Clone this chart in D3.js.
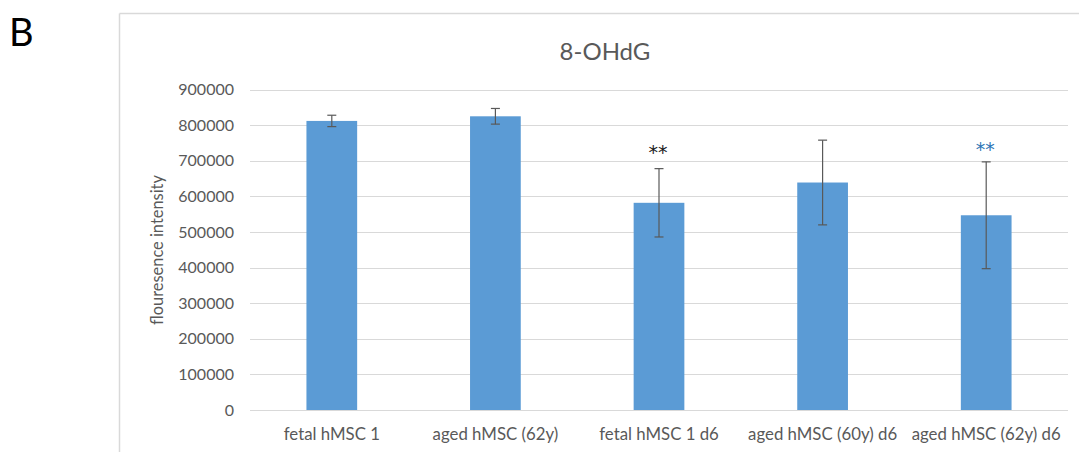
<!DOCTYPE html>
<html>
<head>
<meta charset="utf-8">
<script src="https://cdn.jsdelivr.net/npm/d3@7"></script>
<style>
  html, body { margin: 0; padding: 0; background: #fff; }
  svg { display: block; font-family: Lato, "Open Sans", sans-serif; }
</style>
</head>
<body>
<svg id="chart" width="1079" height="452"></svg>
<script>
const categories = ["fetal hMSC 1", "aged hMSC (62y)", "fetal hMSC 1 d6", "aged hMSC (60y) d6", "aged hMSC (62y) d6"];
const values = [812000, 825000, 582000, 639000, 547000];
const errors = [16000, 22000, 96000, 119000, 150000];
const significance = ["", "", "**", "", "**"];
const significanceColors = ["#000", "#000", "#1a1a1a", "#000", "#2E75B6"];
const yTicks = [0, 100000, 200000, 300000, 400000, 500000, 600000, 700000, 800000, 900000];

const svg = d3.select("#chart");
const W = 1079, H = 452;
const margin = { left: 250, right: 11, top: 89.6, bottom: 42 };

// panel label
svg.append("text").attr("x", 9).attr("y", 46)
  .attr("font-size", 38).attr("fill", "#000").text("B");

// chart frame (top and left edges visible)
svg.append("line").attr("x1", 119.5).attr("x2", W).attr("y1", 13.5).attr("y2", 13.5)
  .attr("stroke", "#d9d9d9").attr("stroke-width", 1.5);
svg.append("line").attr("x1", 119.5).attr("x2", 119.5).attr("y1", 13.5).attr("y2", H)
  .attr("stroke", "#d9d9d9").attr("stroke-width", 1.5);

const x = d3.scaleBand().domain(categories)
  .range([margin.left, W - margin.right])
  .paddingInner(0.69).paddingOuter(0.345);
const y = d3.scaleLinear().domain([0, 900000]).range([410, margin.top]);

// gridlines
svg.append("g").selectAll("line").data(yTicks).join("line")
  .attr("x1", margin.left).attr("x2", W - margin.right)
  .attr("y1", d => Math.round(y(d)) + 0.5).attr("y2", d => Math.round(y(d)) + 0.5)
  .attr("stroke", "#d9d9d9").attr("stroke-width", 1);

// y axis labels
const yAxis = d3.axisLeft(y).tickValues(yTicks).tickSize(0).tickPadding(16).tickFormat(d3.format("d"));
const gy = svg.append("g").attr("transform", `translate(${margin.left},0)`).call(yAxis);
gy.select(".domain").remove();
gy.selectAll("text").attr("font-size", 16).attr("fill", "#595959")
  .attr("font-family", "Lato, 'Open Sans', sans-serif");

// x axis labels
const xAxis = d3.axisBottom(x).tickSize(0).tickPadding(18);
const gx = svg.append("g").attr("transform", `translate(0,410)`).call(xAxis);
gx.select(".domain").remove();
gx.selectAll("text").attr("font-size", 16.8).attr("fill", "#595959")
  .attr("font-family", "Lato, 'Open Sans', sans-serif");

// bars
svg.append("g").selectAll("rect").data(categories).join("rect")
  .attr("x", d => x(d)).attr("width", x.bandwidth())
  .attr("y", (d, i) => y(values[i])).attr("height", (d, i) => y(0) - y(values[i]))
  .attr("fill", "#5B9BD5");

// error bars
const eb = svg.append("g").attr("stroke", "#595959").attr("stroke-width", 1.2);
categories.forEach((c, i) => {
  const cx = x(c) + x.bandwidth() / 2;
  const yt = y(values[i] + errors[i]), yb = y(values[i] - errors[i]);
  eb.append("line").attr("x1", cx).attr("x2", cx).attr("y1", yt).attr("y2", yb);
  eb.append("line").attr("x1", cx - 4.5).attr("x2", cx + 4.5).attr("y1", yt).attr("y2", yt);
  eb.append("line").attr("x1", cx - 4.5).attr("x2", cx + 4.5).attr("y1", yb).attr("y2", yb);
});

// significance markers
svg.append("g").selectAll("text").data(categories).join("text")
  .attr("x", d => x(d) + x.bandwidth() / 2 - 1)
  .attr("y", (d, i) => y(values[i] + errors[i]) - (i === 4 ? 6 : 10))
  .attr("text-anchor", "middle").attr("font-size", 19)
  .attr("font-family", "'DejaVu Sans', sans-serif")
  .attr("fill", (d, i) => significanceColors[i])
  .text((d, i) => significance[i]);

// title
svg.append("text").attr("x", 605).attr("y", 60).attr("text-anchor", "middle")
  .attr("font-size", 24).attr("fill", "#595959").text("8-OHdG");

// y axis title
svg.append("text").attr("transform", "translate(163,250) rotate(-90)")
  .attr("text-anchor", "middle").attr("font-size", 16.4).attr("fill", "#595959")
  .text("flouresence intensity");
</script>
</body>
</html>
